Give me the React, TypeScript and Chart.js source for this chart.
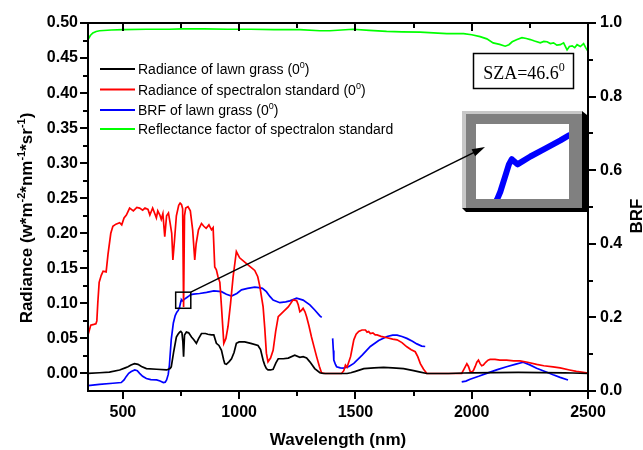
import React, { useEffect, useRef } from "react";
import { Chart, registerables } from "chart.js";

Chart.register(...registerables);

// ---------------- data ----------------
const xTicks = [500, 1000, 1500, 2000, 2500];
const leftTicks = [0, 0.05, 0.1, 0.15, 0.2, 0.25, 0.3, 0.35, 0.4, 0.45, 0.5];
const rightTicks = [0, 0.2, 0.4, 0.6, 0.8, 1.0];

const grassRadWl = [350, 400, 442, 486, 510, 522, 535, 550, 565, 580, 601, 645, 688, 703, 708, 718, 730, 737, 744, 749, 754, 758, 761, 765, 773, 783, 795, 805, 816, 826, 838, 855, 865, 881, 891, 902, 913, 924, 933, 938, 945, 957, 967, 978, 988, 1000, 1024, 1050, 1081, 1092, 1103, 1110, 1117, 1124, 1135, 1146, 1158, 1168, 1190, 1211, 1239, 1261, 1275, 1290, 1304, 1325, 1347, 1362, 1400, 1464, 1480, 1500, 1536, 1580, 1621, 1660, 1707, 1750, 1779, 1807, 1900, 2000, 2200, 2400, 2500];
const grassRad = [0.0, 0.001, 0.002, 0.005, 0.008, 0.0095, 0.012, 0.014, 0.013, 0.01, 0.007, 0.006, 0.005, 0.007, 0.0095, 0.03, 0.052, 0.056, 0.059, 0.06, 0.058, 0.045, 0.024, 0.055, 0.059, 0.058, 0.052, 0.048, 0.043, 0.05, 0.057, 0.057, 0.056, 0.055, 0.055, 0.043, 0.04, 0.033, 0.02, 0.014, 0.013, 0.017, 0.021, 0.03, 0.043, 0.045, 0.045, 0.043, 0.04, 0.034, 0.019, 0.012, 0.007, 0.005, 0.005, 0.006, 0.015, 0.021, 0.021, 0.022, 0.026, 0.023, 0.024, 0.022, 0.0166, 0.007, 0.001, 0.0, 0.0, 0.0, 0.001, 0.003, 0.007, 0.008, 0.0086, 0.008, 0.007, 0.004, 0.002, 0.0, 0.0, 0.001, 0.0015, 0.001, 0.0];

const panelRadWl = [350, 362, 375, 384, 388, 392, 398, 407, 415, 428, 436, 448, 457, 470, 486, 495, 505, 515, 529, 545, 560, 572, 585, 595, 608, 616, 628, 644, 650, 659, 665, 672, 680, 688, 696, 703, 710, 715, 722, 730, 740, 746, 752, 757, 761, 765, 770, 780, 790, 800, 809, 815, 825, 838, 848, 858, 870, 881, 888, 895, 902, 909, 917, 924, 934, 943, 952, 963, 974, 988, 1002, 1020, 1038, 1067, 1080, 1089, 1103, 1110, 1117, 1124, 1135, 1146, 1157, 1168, 1189, 1211, 1232, 1247, 1254, 1261, 1268, 1275, 1283, 1290, 1300, 1311, 1322, 1333, 1345, 1354, 1370, 1400, 1440, 1450, 1457, 1464, 1471, 1479, 1486, 1493, 1503, 1514, 1528, 1543, 1550, 1557, 1564, 1575, 1585, 1593, 1610, 1636, 1660, 1679, 1700, 1721, 1740, 1757, 1768, 1779, 1793, 1807, 1900, 1957, 1968, 1979, 1986, 1993, 2000, 2007, 2015, 2022, 2029, 2036, 2043, 2050, 2060, 2070, 2079, 2100, 2121, 2150, 2180, 2207, 2240, 2279, 2310, 2350, 2380, 2421, 2450, 2493, 2500];
const panelRad = [0.055, 0.069, 0.07, 0.071, 0.075, 0.1, 0.13, 0.14, 0.146, 0.145, 0.17, 0.2, 0.21, 0.213, 0.215, 0.212, 0.222, 0.226, 0.236, 0.232, 0.237, 0.236, 0.233, 0.236, 0.234, 0.226, 0.236, 0.222, 0.232, 0.226, 0.22, 0.228, 0.195, 0.225, 0.229, 0.215, 0.2, 0.162, 0.19, 0.225, 0.24, 0.243, 0.241, 0.235, 0.095, 0.225, 0.236, 0.238, 0.232, 0.205, 0.162, 0.185, 0.205, 0.214, 0.21, 0.207, 0.212, 0.205, 0.208, 0.152, 0.148, 0.138, 0.13, 0.095, 0.043, 0.05, 0.067, 0.1, 0.138, 0.174, 0.165, 0.16, 0.155, 0.147, 0.138, 0.124, 0.095, 0.065, 0.029, 0.0166, 0.022, 0.033, 0.06, 0.081, 0.088, 0.095, 0.105, 0.104, 0.098, 0.088, 0.09, 0.093, 0.088, 0.081, 0.068, 0.052, 0.038, 0.024, 0.01, 0.001, 0.0, 0.0, 0.0, 0.004, 0.012, 0.009, 0.016, 0.024, 0.036, 0.048, 0.056, 0.06, 0.062, 0.062, 0.059, 0.06, 0.057, 0.058, 0.055, 0.055, 0.053, 0.051, 0.049, 0.048, 0.044, 0.038, 0.034, 0.031, 0.024, 0.014, 0.006, 0.0, 0.0, 0.0, 0.007, 0.014, 0.01, 0.003, 0.002, 0.004, 0.01, 0.016, 0.019, 0.014, 0.011, 0.012, 0.016, 0.019, 0.02, 0.02, 0.019, 0.019, 0.018, 0.018, 0.016, 0.013, 0.011, 0.0095, 0.008, 0.005, 0.003, 0.001, 0.0];

const brfWl = [350, 399, 457, 493, 505, 514, 525, 536, 551, 562, 572, 585, 601, 620, 645, 660, 674, 682, 688, 695, 700, 708, 717, 725, 732, 738, 742, 744, 747, 750, 752, 756, 760, 765, 775, 786, 792, 804, 830, 860, 891, 924, 945, 967, 990, 1010, 1036, 1067, 1085, 1100, 1117, 1132, 1146, 1175, 1200, 1218, 1247, 1275, 1304, 1325, 1347, 1355, 1375, 1402, 1405, 1407, 1414, 1419, 1435, 1448, 1470, 1493, 1530, 1564, 1600, 1636, 1660, 1679, 1700, 1721, 1745, 1764, 1785, 1800, 1880, 1957, 1975, 1993, 2030, 2064, 2110, 2150, 2190, 2221, 2250, 2279, 2315, 2350, 2380, 2414];
const brf = [0.0145, 0.018, 0.021, 0.023, 0.03, 0.039, 0.048, 0.053, 0.057, 0.055, 0.048, 0.04, 0.034, 0.031, 0.03, 0.027, 0.023, 0.024, 0.03, 0.045, 0.07, 0.14, 0.185, 0.205, 0.214, 0.219, 0.225, 0.229, 0.237, 0.245, 0.248, 0.245, 0.247, 0.2496, 0.254, 0.259, 0.262, 0.263, 0.265, 0.268, 0.272, 0.27, 0.263, 0.258, 0.265, 0.275, 0.279, 0.282, 0.281, 0.279, 0.27, 0.257, 0.247, 0.24, 0.242, 0.245, 0.252, 0.247, 0.234, 0.22, 0.204, 0.2, null, 0.143, 0.11, 0.084, 0.072, 0.066, 0.063, 0.062, 0.066, 0.075, 0.098, 0.121, 0.137, 0.148, 0.152, 0.152, 0.148, 0.143, 0.135, 0.128, 0.122, 0.121, null, 0.025, 0.027, 0.032, 0.04, 0.048, 0.058, 0.066, 0.073, 0.078, 0.071, 0.062, 0.053, 0.044, 0.037, 0.03];

const panelRfWl = [350, 360, 371, 385, 400, 450, 500, 600, 700, 757, 850, 950, 1050, 1150, 1261, 1347, 1390, 1489, 1560, 1634, 1700, 1778, 1893, 1965, 2000, 2036, 2065, 2092, 2120, 2144, 2160, 2174, 2195, 2216, 2235, 2252, 2270, 2295, 2310, 2324, 2338, 2352, 2366, 2381, 2395, 2410, 2420, 2432, 2443, 2453, 2467, 2481, 2490, 2496, 2500];
const panelRf = [0.955, 0.966, 0.973, 0.977, 0.979, 0.981, 0.982, 0.983, 0.983, 0.984, 0.984, 0.983, 0.983, 0.982, 0.982, 0.979, 0.979, 0.983, 0.98, 0.977, 0.976, 0.975, 0.971, 0.971, 0.968, 0.963, 0.957, 0.946, 0.942, 0.937, 0.941, 0.949, 0.955, 0.96, 0.958, 0.955, 0.951, 0.946, 0.95, 0.949, 0.944, 0.946, 0.94, 0.941, 0.946, 0.927, 0.936, 0.938, 0.933, 0.941, 0.936, 0.944, 0.933, 0.927, 0.93];

const seriesLabels = [
  "Radiance of lawn grass (0^0)",
  "Radiance of spectralon standard (0^0)",
  "BRF of lawn grass (0^0)",
  "Reflectance factor of spectralon standard",
];
const seriesColors = ["#000000", "#ff0000", "#0000ff", "#00ff00"];

// zoom window (data coords) shown in the inset
const zoomWl = [727, 792];
const zoomRad = [0.093, 0.116];

// ---------------- helpers ----------------
const FAMILY = "Arial, 'Liberation Sans', sans-serif";

function pairs(xs: number[], ys: (number | null)[]) {
  return xs.map((x, i) => ({ x, y: ys[i] }));
}

function parseRich(s: string): [string, boolean][] {
  const out: [string, boolean][] = [];
  const re = /\^\{([^}]*)\}|\^(\S)/g;
  let last = 0;
  let m: RegExpExecArray | null;
  while ((m = re.exec(s))) {
    if (m.index > last) out.push([s.slice(last, m.index), false]);
    out.push([m[1] !== undefined ? m[1] : m[2], true]);
    last = re.lastIndex;
  }
  if (last < s.length) out.push([s.slice(last), false]);
  return out;
}

function richText(
  ctx: CanvasRenderingContext2D,
  s: string,
  x: number,
  y: number,
  size: number,
  family: string,
  weight: string,
  align: "left" | "center"
) {
  const parts = parseRich(s);
  const base = `${weight} ${size}px ${family}`;
  const sup = `${weight} ${Math.round(size * 0.66)}px ${family}`;
  let w = 0;
  for (const [t, sp] of parts) {
    ctx.font = sp ? sup : base;
    w += ctx.measureText(t).width;
  }
  let cx = align === "center" ? x - w / 2 : x;
  ctx.textAlign = "left";
  ctx.textBaseline = "alphabetic";
  for (const [t, sp] of parts) {
    ctx.font = sp ? sup : base;
    ctx.fillText(t, cx, sp ? y - size * 0.42 : y);
    cx += ctx.measureText(t).width;
  }
}

const overlayPlugin = {
  id: "overlay",
  afterDraw(chart: any) {
    const ctx: CanvasRenderingContext2D = chart.ctx;
    const { left, right, top, bottom } = chart.chartArea;
    const sx = chart.scales.x;
    const sy = chart.scales.y;
    const sy1 = chart.scales.y1;
    ctx.save();
    ctx.strokeStyle = "#000";
    ctx.fillStyle = "#000";
    ctx.lineWidth = 2;
    ctx.lineCap = "butt";
    ctx.strokeRect(left, top, right - left, bottom - top);
    const line = (x1: number, y1: number, x2: number, y2: number) => {
      ctx.beginPath();
      ctx.moveTo(x1, y1);
      ctx.lineTo(x2, y2);
      ctx.stroke();
    };
    for (let v = 500; v <= 2500; v += 250) {
      const px = Math.round(sx.getPixelForValue(v));
      const len = v % 500 === 0 ? 8 : 5;
      line(px, bottom, px, bottom + len);
      if (v < 2500) line(px, top, px, top + len);
    }
    for (let i = 0; i <= 20; i++) {
      const v = i * 0.025;
      const py = Math.round(sy.getPixelForValue(v));
      const len = i % 2 === 0 ? 8 : 5;
      line(left - len, py, left, py);
    }
    for (let i = 0; i <= 10; i++) {
      const v = i * 0.1;
      const py = Math.round(sy1.getPixelForValue(v));
      const len = i % 2 === 0 ? 8 : 5;
      line(right, py, right + len, py);
    }

    // legend
    ctx.lineWidth = 2;
    const rows = [69, 89.5, 110, 129];
    seriesLabels.forEach((lab, i) => {
      ctx.strokeStyle = seriesColors[i];
      line(100, rows[i], 135, rows[i]);
      ctx.fillStyle = "#000";
      richText(ctx, lab, 138, rows[i] + 5, 14, FAMILY, "normal", "left");
    });

    // SZA box
    ctx.strokeStyle = "#000";
    ctx.lineWidth = 1.5;
    ctx.strokeRect(473.5, 53.5, 100, 35);
    ctx.fillStyle = "#000";
    richText(ctx, "SZA=46.6^0", 524, 78.5, 18, "'Liberation Serif', 'Times New Roman', serif", "normal", "center");

    // zoom square
    const qL = sx.getPixelForValue(zoomWl[0]);
    const qR = sx.getPixelForValue(zoomWl[1]);
    const qT = sy.getPixelForValue(zoomRad[1]);
    const qB = sy.getPixelForValue(zoomRad[0]);
    ctx.lineWidth = 1.5;
    ctx.strokeRect(qL, qT, qR - qL, qB - qT);

    // inset frame
    const ox = 462, oy = 111, ow = 125, oh = 101;
    ctx.fillStyle = "#000000";
    ctx.beginPath();
    ctx.moveTo(ox + ow - 5, oy);
    ctx.lineTo(ox + ow, oy + 4);
    ctx.lineTo(ox + ow, oy + oh);
    ctx.lineTo(ox + 4, oy + oh);
    ctx.lineTo(ox, oy + oh - 4);
    ctx.lineTo(ox + ow - 5, oy + oh - 4);
    ctx.closePath();
    ctx.fill();
    ctx.fillStyle = "#c8c8c8";
    ctx.fillRect(ox, oy, ow - 5, oh - 4);
    ctx.fillStyle = "#808080";
    ctx.fillRect(ox + 4, oy + 3, ow - 9, oh - 7);
    const iL = 476, iT = 124, iW = 93, iH = 75;
    ctx.fillStyle = "#ffffff";
    ctx.fillRect(iL, iT, iW, iH);

    // inset curve: BRF data mapped from zoom square into inset
    ctx.save();
    ctx.beginPath();
    ctx.rect(iL, iT, iW, iH);
    ctx.clip();
    ctx.strokeStyle = "#0000ff";
    ctx.lineWidth = 6;
    ctx.lineJoin = "round";
    ctx.lineCap = "round";
    ctx.beginPath();
    let started = false;
    for (let i = 0; i < brfWl.length; i++) {
      const w = brfWl[i];
      const v = brf[i];
      if (v === null || w < zoomWl[0] - 30 || w > zoomWl[1] + 30) continue;
      const px = sx.getPixelForValue(w);
      const py = sy1.getPixelForValue(v);
      const ix = iL + ((px - qL) / (qR - qL)) * iW;
      const iy = iT + ((py - qT) / (qB - qT)) * iH;
      if (!started) {
        ctx.moveTo(ix, iy);
        started = true;
      } else ctx.lineTo(ix, iy);
    }
    ctx.stroke();
    ctx.restore();

    // arrow
    const ax1 = qR, ay1 = qT;
    const ax2 = 485, ay2 = 147;
    ctx.strokeStyle = "#000";
    ctx.lineWidth = 1.5;
    const ang = Math.atan2(ay2 - ay1, ax2 - ax1);
    const hl = 13;
    line(ax1, ay1, ax2 - Math.cos(ang) * hl * 0.8, ay2 - Math.sin(ang) * hl * 0.8);
    ctx.fillStyle = "#000";
    ctx.beginPath();
    ctx.moveTo(ax2, ay2);
    ctx.lineTo(ax2 - hl * Math.cos(ang) + 4 * Math.sin(ang), ay2 - hl * Math.sin(ang) - 4 * Math.cos(ang));
    ctx.lineTo(ax2 - hl * Math.cos(ang) - 4 * Math.sin(ang), ay2 - hl * Math.sin(ang) + 4 * Math.cos(ang));
    ctx.closePath();
    ctx.fill();

    // axis titles
    ctx.fillStyle = "#000";
    richText(ctx, "Wavelength (nm)", (left + right) / 2, 445, 17, FAMILY, "bold", "center");
    ctx.save();
    ctx.translate(32, 218);
    ctx.rotate(-Math.PI / 2);
    richText(ctx, "Radiance (w*m^{-2}*nm^{-1}*sr^{-1})", 0, 0, 17, FAMILY, "bold", "center");
    ctx.restore();
    ctx.save();
    ctx.translate(642, 216);
    ctx.rotate(-Math.PI / 2);
    richText(ctx, "BRF", 0, 0, 17, FAMILY, "bold", "center");
    ctx.restore();

    ctx.restore();
  },
};

export default function App() {
  const ref = useRef<HTMLCanvasElement | null>(null);
  useEffect(() => {
    if (!ref.current) return;
    const tickFont = { family: FAMILY, size: 16, weight: "bold" as const };
    const ds = (label: string, data: any[], color: string, axis: string) => ({
      label,
      data,
      borderColor: color,
      backgroundColor: color,
      borderWidth: 1.7,
      pointRadius: 0,
      tension: 0,
      spanGaps: false,
      yAxisID: axis,
      fill: false,
    });
    const chart = new Chart(ref.current, {
      type: "line",
      data: {
        datasets: [
          ds(seriesLabels[0], pairs(grassRadWl, grassRad), seriesColors[0], "y"),
          ds(seriesLabels[1], pairs(panelRadWl, panelRad), seriesColors[1], "y"),
          ds(seriesLabels[2], pairs(brfWl, brf), seriesColors[2], "y1"),
          ds(seriesLabels[3], pairs(panelRfWl, panelRf), seriesColors[3], "y1"),
        ],
      },
      options: {
        responsive: false,
        animation: false,
        devicePixelRatio: 1,
        layout: { padding: { top: 23, left: 0, right: 0, bottom: 0 } },
        plugins: { legend: { display: false }, tooltip: { enabled: false }, title: { display: false } },
        scales: {
          x: {
            type: "linear",
            min: 350,
            max: 2500,
            position: "bottom",
            grid: { display: false, drawTicks: false },
            border: { display: false },
            ticks: { font: tickFont, color: "#000", padding: 12, maxRotation: 0, callback: (v: any) => String(v) },
            afterBuildTicks: (s: any) => {
              s.ticks = xTicks.map((v) => ({ value: v }));
            },
            afterFit: (s: any) => {
              s.height = 59;
            },
          },
          y: {
            type: "linear",
            min: -0.025,
            max: 0.5,
            position: "left",
            grid: { display: false, drawTicks: false },
            border: { display: false },
            ticks: { font: tickFont, color: "#000", padding: 10, callback: (v: any) => Number(v).toFixed(2) },
            afterBuildTicks: (s: any) => {
              s.ticks = leftTicks.map((v) => ({ value: v }));
            },
            afterFit: (s: any) => {
              s.width = 88;
            },
          },
          y1: {
            type: "linear",
            min: 0,
            max: 1,
            position: "right",
            grid: { display: false, drawTicks: false },
            border: { display: false },
            ticks: { font: tickFont, color: "#000", padding: 12, callback: (v: any) => Number(v).toFixed(1) },
            afterBuildTicks: (s: any) => {
              s.ticks = rightTicks.map((v) => ({ value: v }));
            },
            afterFit: (s: any) => {
              s.width = 55;
            },
          },
        },
      } as any,
      plugins: [overlayPlugin],
    });
    return () => chart.destroy();
  }, []);
  return (
    <div style={{ position: "fixed", left: 0, top: 0, width: 643, height: 450, background: "#fff" }}>
      <canvas ref={ref} width={643} height={450} style={{ display: "block", width: 643, height: 450 }} />
    </div>
  );
}
